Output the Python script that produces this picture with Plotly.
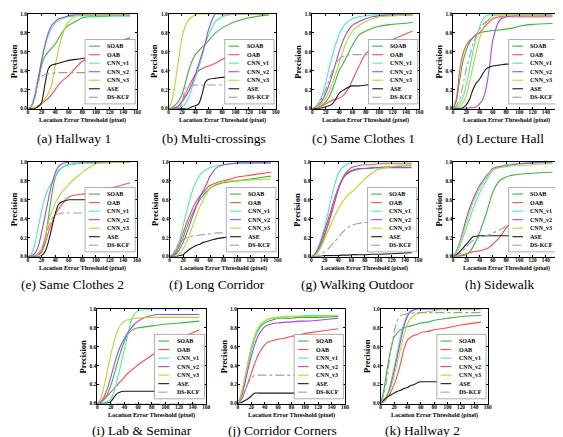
import plotly.graph_objects as go

# ---------------- data ----------------
X = [0, 5, 10, 15, 20, 25, 30, 35, 40, 45, 50, 55, 60, 70, 80, 90, 100, 120, 150]
SERIES = ["SOAB", "OAB", "CNN_v1", "CNN_v2", "CNN_v3", "ASE", "DS-KCF"]
TITLES = ["(a) Hallway 1", "(b) Multi-crossings", "(c) Same Clothes 1", "(d) Lecture Hall",
          "(e) Same Clothes 2", "(f) Long Corridor", "(g) Walking Outdoor", "(h) Sidewalk",
          "(i) Lab & Seminar", "(j) Corridor Corners", "(k) Hallway 2"]
X_TICKS = [0, 20, 40, 60, 80, 100, 120, 140, 160]
Y_TICKS = [0.0, 0.2, 0.4, 0.6, 0.8, 1.0]

hallway_1 = {
    "SOAB":   [0, .02, .12, .28, .45, .55, .60, .64, .68, .74, .80, .85, .88, .92, .96, .97, .97, .98, .98],
    "OAB":    [0, 0, .01, .03, .05, .08, .11, .15, .20, .25, .29, .32, .35, .43, .50, .54, .58, .66, .75],
    "CNN_v1": [0, .03, .15, .33, .50, .65, .77, .85, .90, .93, .95, .96, .97, .98, .98, .98, .98, .98, .98],
    "CNN_v2": [0, .02, .12, .30, .50, .67, .80, .88, .92, .95, .96, .97, .98, .99, .99, .99, .99, .99, .99],
    "CNN_v3": [0, 0, .01, .03, .06, .10, .16, .25, .45, .62, .76, .86, .92, .98, .99, .99, .99, .99, .99],
    "ASE":    [0, 0, 0, .02, .06, .25, .42, .46, .47, .48, .49, .50, .51, .52, .53, .54, .55, .56, .57],
    "DS-KCF": [0, .02, .10, .28, .34, .36, .37, .37, .38, .38, .38, .38, .38, .38, .38, .38, .38, .38, .38],
}
multi_crossings = {
    "SOAB":   [0, .01, .04, .08, .15, .27, .40, .50, .57, .61, .65, .68, .72, .80, .85, .89, .92, .96, .99],
    "OAB":    [0, 0, .01, .03, .08, .15, .23, .30, .36, .40, .42, .44, .45, .48, .52, .56, .60, .65, .72],
    "CNN_v1": [0, 0, 0, .01, .02, .05, .12, .22, .32, .43, .55, .68, .78, .92, .97, .99, 1, 1, 1],
    "CNN_v2": [0, 0, .01, .03, .07, .12, .18, .26, .36, .47, .58, .70, .84, 1, 1, 1, 1, 1, 1],
    "CNN_v3": [0, .08, .28, .52, .75, .87, .94, .97, .99, 1, 1, 1, 1, 1, 1, 1, 1, 1, 1],
    "ASE":    [0, 0, 0, 0, 0, 0, 0, .02, .03, .05, .15, .28, .31, .32, .33, .33, .33, .33, .33],
    "DS-KCF": [0, 0, 0, .01, .05, .22, .24, .25, .25, .25, .25, .25, .25, .25, .25, .25, .25, .25, .25],
}
same_clothes_1 = {
    "SOAB":   [0, .01, .02, .04, .07, .12, .20, .30, .40, .46, .53, .60, .67, .78, .82, .85, .87, .89, .91],
    "OAB":    [0, 0, .01, .03, .05, .07, .09, .10, .11, .13, .17, .22, .30, .45, .58, .63, .67, .73, .82],
    "CNN_v1": [0, .02, .07, .15, .27, .42, .56, .68, .78, .85, .90, .93, .95, .97, .98, .99, .99, .99, .99],
    "CNN_v2": [0, .01, .04, .09, .16, .25, .36, .48, .60, .70, .78, .84, .88, .92, .95, .97, .98, .99, .99],
    "CNN_v3": [0, .01, .03, .06, .11, .18, .27, .37, .48, .59, .69, .76, .82, .88, .92, .95, .97, .98, .99],
    "ASE":    [0, 0, 0, .01, .02, .03, .05, .10, .16, .19, .21, .23, .24, .24, .25, .25, .25, .25, .25],
    "DS-KCF": [0, .02, .06, .12, .20, .30, .40, .47, .52, .55, .56, .57, .57, .57, .57, .57, .57, .57, .57],
}
lecture_hall = {
    "SOAB":   [0, .08, .30, .50, .62, .70, .75, .78, .80, .81, .815, .82, .825, .83, .84, .85, .87, .89, .90],
    "OAB":    [0, .10, .40, .58, .67, .72, .75, .78, .80, .84, .88, .92, .95, .97, .97, .97, .97, .97, .97],
    "CNN_v1": [0, .01, .05, .12, .25, .42, .60, .75, .86, .94, .98, .99, .99, .99, .99, .99, .99, .99, .98],
    "CNN_v2": [0, 0, 0, 0, 0, .01, .01, .02, .05, .10, .22, .44, .72, .93, .97, .98, .99, .99, .99],
    "CNN_v3": [0, 0, .02, .06, .14, .28, .44, .60, .74, .84, .91, .95, .98, .99, .99, .99, .99, .99, .99],
    "ASE":    [0, 0, 0, .01, .04, .10, .20, .27, .31, .37, .42, .44, .45, .46, .47, .47, .48, .48, .48],
    "DS-KCF": [0, .03, .10, .25, .42, .55, .68, .77, .84, .89, .92, .94, .95, .96, .97, .97, .97, .97, .97],
}
same_clothes_2 = {
    "SOAB":   [0, 0, .01, .02, .05, .18, .40, .65, .83, .91, .94, .96, .97, .98, .99, .99, .99, 1, 1],
    "OAB":    [0, 0, .01, .02, .05, .13, .25, .35, .44, .50, .55, .60, .63, .65, .66, .67, .70, .72, .78],
    "CNN_v1": [0, .03, .12, .30, .48, .62, .72, .78, .84, .90, .94, .96, .97, .98, .99, .99, 1, 1, 1],
    "CNN_v2": [0, .01, .03, .10, .25, .42, .60, .76, .88, .95, .98, .99, 1, 1, 1, 1, 1, 1, 1],
    "CNN_v3": [0, 0, .01, .03, .08, .20, .35, .47, .56, .63, .68, .72, .76, .83, .89, .94, .98, .99, 1],
    "ASE":    [0, 0, 0, 0, .01, .05, .15, .30, .45, .55, .58, .59, .60, .60, .60, .60, .60, .60, .60],
    "DS-KCF": [0, 0, .01, .03, .08, .18, .30, .40, .44, .45, .46, .46, .46, .46, .46, .46, .46, .46, .46],
}
long_corridor = {
    "SOAB":   [0, .01, .05, .12, .20, .30, .39, .47, .54, .60, .65, .69, .72, .76, .78, .79, .80, .82, .85],
    "OAB":    [0, .02, .07, .15, .25, .35, .44, .52, .59, .64, .68, .72, .75, .78, .80, .82, .84, .86, .89],
    "CNN_v1": [0, .02, .08, .18, .32, .47, .60, .72, .80, .86, .90, .92, .94, .96, .97, .98, .98, .99, .99],
    "CNN_v2": [0, .01, .03, .08, .15, .24, .34, .44, .54, .63, .70, .77, .85, .94, .97, .98, .99, .99, .99],
    "CNN_v3": [0, 0, .01, .03, .08, .15, .24, .34, .44, .53, .60, .67, .72, .77, .79, .80, .80, .81, .82],
    "ASE":    [0, 0, 0, .01, .02, .05, .08, .10, .12, .13, .15, .16, .17, .19, .20, .21, .22, .23, .25],
    "DS-KCF": [0, .03, .09, .15, .18, .20, .21, .22, .22, .23, .23, .24, .24, .25, .25, .26, .26, .26, .26],
}
walking_outdoor = {
    "SOAB":   [0, .02, .06, .14, .24, .35, .46, .58, .70, .79, .85, .88, .90, .92, .93, .93, .94, .95, .96],
    "OAB":    [0, .01, .05, .12, .22, .33, .45, .58, .70, .80, .87, .91, .94, .96, .97, .97, .98, .98, .98],
    "CNN_v1": [0, .03, .10, .20, .32, .46, .62, .76, .87, .93, .96, .98, .99, 1, 1, 1, 1, 1, 1],
    "CNN_v2": [0, .02, .08, .17, .28, .39, .50, .62, .72, .80, .86, .89, .91, .93, .93, .94, .94, .94, .94],
    "CNN_v3": [0, .01, .05, .11, .19, .27, .35, .43, .50, .56, .61, .65, .68, .75, .82, .88, .92, .95, .97],
    "ASE":    [0, 0, 0, .005, .01, .01, .01, .01, .01, .015, .015, .015, .02, .02, .02, .025, .025, .03, .04],
    "DS-KCF": [0, 0, .01, .03, .05, .08, .12, .16, .20, .24, .28, .31, .33, .35, .36, .36, .36, .36, .36],
}
sidewalk = {
    "SOAB":   [0, 0, 0, .01, .02, .05, .10, .17, .25, .35, .45, .57, .68, .80, .84, .86, .87, .88, .89],
    "OAB":    [0, 0, .01, .02, .03, .04, .05, .055, .06, .07, .08, .10, .13, .20, .30, .38, .43, .50, .58],
    "CNN_v1": [0, .04, .10, .20, .30, .40, .50, .59, .67, .74, .80, .86, .91, .95, .97, .98, .98, .99, .99],
    "CNN_v2": [0, .06, .15, .27, .40, .51, .60, .68, .75, .80, .85, .89, .93, .95, .96, .97, .98, .99, 1],
    "CNN_v3": [0, .05, .13, .24, .36, .47, .57, .65, .72, .78, .83, .88, .92, .94, .95, .96, .96, .97, .98],
    "ASE":    [0, .02, .05, .09, .13, .17, .21, .215, .22, .22, .22, .22, .22, .22, .22, .22, .22, .22, .22],
    "DS-KCF": [0, .01, .03, .06, .10, .14, .17, .19, .20, .21, .22, .23, .25, .28, .32, .35, .37, .40, .45],
}
lab_seminar = {
    "SOAB":   [0, .01, .04, .10, .19, .31, .44, .56, .66, .73, .77, .79, .80, .81, .82, .83, .84, .85, .87],
    "OAB":    [0, .02, .05, .08, .12, .16, .20, .24, .28, .32, .35, .38, .41, .46, .51, .55, .60, .68, .78],
    "CNN_v1": [0, 0, .01, .02, .05, .13, .27, .42, .58, .73, .88, .95, .98, .99, 1, 1, 1, 1, 1],
    "CNN_v2": [0, .02, .07, .16, .28, .41, .53, .62, .69, .75, .80, .84, .87, .91, .93, .94, .94, .94, .94],
    "CNN_v3": [0, .05, .18, .35, .52, .66, .77, .84, .87, .885, .89, .90, .90, .91, .91, .91, .91, .91, .91],
    "ASE":    [0, 0, 0, .005, .02, .07, .11, .125, .13, .13, .13, .13, .13, .13, .13, .13, .13, .13, .13],
    "DS-KCF": [0, 0, 0, 0, 0, 0, 0, 0, 0, 0, 0, 0, 0, 0, 0, 0, 0, 0, 0],
}
corridor_corners = {
    "SOAB":   [0, .10, .25, .42, .57, .69, .77, .82, .85, .87, .88, .89, .90, .90, .90, .91, .91, .91, .92],
    "OAB":    [0, .04, .12, .22, .32, .42, .51, .57, .62, .65, .66, .67, .68, .69, .71, .72, .74, .76, .79],
    "CNN_v1": [0, .08, .22, .40, .56, .69, .78, .84, .87, .89, .90, .91, .91, .92, .92, .92, .93, .93, .93],
    "CNN_v2": [0, .07, .20, .36, .50, .62, .71, .77, .81, .83, .84, .85, .85, .86, .86, .87, .87, .88, .90],
    "CNN_v3": [0, .10, .26, .44, .60, .72, .80, .85, .87, .89, .90, .90, .91, .91, .92, .92, .92, .92, .93],
    "ASE":    [0, .01, .03, .05, .08, .11, .11, .11, .11, .11, .11, .11, .11, .11, .11, .11, .11, .11, .11],
    "DS-KCF": [0, .06, .13, .21, .27, .30, .30, .30, .30, .30, .30, .30, .30, .30, .30, .30, .30, .30, .30],
}
hallway_2 = {
    "SOAB":   [0, .15, .38, .57, .70, .75, .78, .80, .81, .82, .83, .84, .85, .86, .88, .89, .90, .92, .93],
    "OAB":    [0, .02, .06, .12, .20, .30, .43, .58, .67, .70, .72, .73, .75, .76, .78, .79, .80, .83, .86],
    "CNN_v1": [0, .03, .10, .22, .38, .55, .72, .85, .94, .98, .99, 1, 1, 1, 1, 1, 1, 1, 1],
    "CNN_v2": [0, .02, .08, .19, .34, .50, .67, .82, .92, .97, .99, 1, 1, 1, 1, 1, 1, 1, 1],
    "CNN_v3": [0, .02, .07, .16, .29, .44, .59, .73, .84, .90, .93, .95, .96, .97, .98, .99, .99, .99, .99],
    "ASE":    [0, .04, .07, .09, .11, .13, .14, .16, .17, .19, .20, .22, .23, .23, .23, .23, .23, .23, .23],
    "DS-KCF": [0, .10, .30, .55, .75, .88, .93, .94, .95, .95, .96, .96, .96, .96, .96, .96, .96, .96, .96],
}
PANELS = [hallway_1, multi_crossings, same_clothes_1, lecture_hall, same_clothes_2,
          long_corridor, walking_outdoor, sidewalk, lab_seminar, corridor_corners, hallway_2]

# ---------------- style / layout ----------------
W, H = 563, 437
COLORS = {"SOAB": "#3db53d", "OAB": "#ff4d4d", "CNN_v1": "#45f0b8", "CNN_v2": "#a445ee",
          "CNN_v3": "#bcd62a", "ASE": "#1a1a1a", "DS-KCF": "#a0a0a0"}
DASH = {"DS-KCF": "dashdot"}
BOXES = [(19, 129, 3, 99), (161, 269, 3, 99), (306, 414, 3, 99), (448, 555, 3, 99),
         (19, 129, 153, 249), (162, 271, 153, 249), (305, 413, 153, 249), (448, 555, 153, 249),
         (89, 199, 302, 398), (231, 339, 302, 398), (375, 483, 302, 398)]
CAP_X = [66, 207, 358, 496, 64, 210, 352, 495, 134, 276, 417]
CAP_Y = [129, 129, 129, 129, 277, 277, 277, 277, 425, 425, 425]
SERIF = "Liberation Serif"


def px(x):
    return x / W


def py(y):
    return 1 - y / H


fig = go.Figure()
layout = dict(width=W, height=H, margin=dict(l=0, r=0, t=0, b=0),
              paper_bgcolor="white", plot_bgcolor="white", showlegend=False)
shapes, annotations = [], []

for i, (panel, box) in enumerate(zip(PANELS, BOXES)):
    n = i + 1
    xs = "" if n == 1 else str(n)
    for s in SERIES:
        fig.add_trace(go.Scatter(
            x=X, y=panel[s], mode="lines", name=s, xaxis="x" + xs, yaxis="y" + xs,
            line=dict(color=COLORS[s], width=1.1, dash=DASH.get(s, "solid"),
                      shape="spline", smoothing=0.7)))
    l, r, t, b = box
    axcommon = dict(showline=True, linecolor="black", linewidth=0.8, mirror="ticks",
                    ticks="inside", ticklen=2, tickwidth=0.6, tickcolor="black",
                    showgrid=False, zeroline=False,
                    tickfont=dict(family=SERIF, size=5.3, color="black", weight="bold"))
    layout["xaxis" + xs] = dict(axcommon, domain=[px(l), px(r)], range=[0, 160],
                                tickvals=X_TICKS, anchor="y" + xs, ticklabelstandoff=-2)
    layout["yaxis" + xs] = dict(axcommon, domain=[py(b), py(t)], range=[0, 1],
                                tickvals=Y_TICKS, tickformat=".1f", anchor="x" + xs,
                                ticklabelstandoff=-1)
    xd, yd = "x" + xs + " domain", "y" + xs + " domain"
    # legend box
    shapes.append(dict(type="rect", xref=xd, yref=yd, x0=0.525, x1=0.985, y0=0.05, y1=0.73,
                       fillcolor="white", line=dict(color="#777", width=0.6), layer="above"))
    for k, s in enumerate(SERIES):
        yy = 0.66 - k * 0.09
        shapes.append(dict(type="line", xref=xd, yref=yd, x0=0.56, x1=0.66, y0=yy, y1=yy,
                           line=dict(color=COLORS[s], width=1.1, dash=DASH.get(s, "solid")),
                           layer="above"))
        annotations.append(dict(xref=xd, yref=yd, x=0.71, y=yy, text=s, showarrow=False,
                                xanchor="left", yanchor="middle",
                                font=dict(family=SERIF, size=6, color="black", weight="bold")))
    # axis titles
    annotations.append(dict(xref="paper", yref="paper", x=px(l - 14), y=py((t + b) / 2),
                            text="Precision", textangle=-90, showarrow=False,
                            xanchor="center", yanchor="middle",
                            font=dict(family=SERIF, size=8.5, color="black", weight="bold")))
    annotations.append(dict(xref="paper", yref="paper", x=px((l + r) / 2), y=py(b + 11.5),
                            text="Location Error Threshold (pixel)", showarrow=False,
                            xanchor="center", yanchor="middle",
                            font=dict(family=SERIF, size=6.2, color="black", weight="bold")))
    annotations.append(dict(xref="paper", yref="paper", x=px(CAP_X[i]), y=py(CAP_Y[i]),
                            text=TITLES[i], showarrow=False, xanchor="center", yanchor="middle",
                            font=dict(family=SERIF, size=13.5, color="black")))

layout["shapes"] = shapes
layout["annotations"] = annotations
fig.update_layout(**layout)
fig.write_html("out.html")
